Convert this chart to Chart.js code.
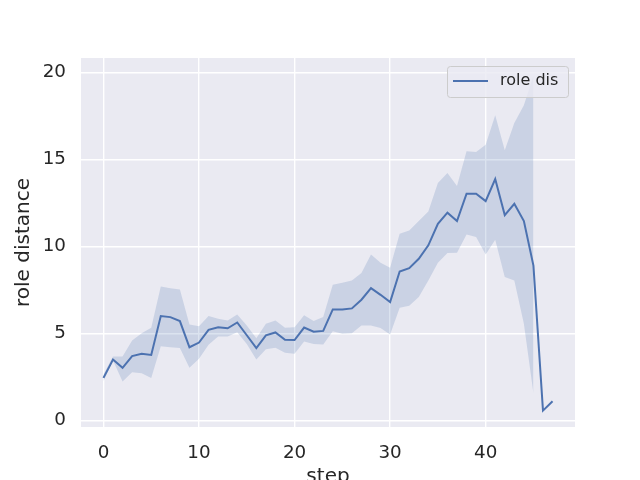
<!DOCTYPE html>
<html>
<head>
<meta charset="utf-8">
<script src="https://cdn.jsdelivr.net/npm/chart.js@4"></script>
<style>
  html, body { margin: 0; padding: 0; background: #ffffff; }
  #wrap { width: 640px; height: 480px; }
</style>
</head>
<body>
<div id="wrap"><canvas id="roleChart" width="640" height="480"></canvas></div>
<script>
const steps = [0, 1, 2, 3, 4, 5, 6, 7, 8, 9, 10, 11, 12, 13, 14, 15, 16, 17, 18, 19, 20, 21, 22, 23,
    24, 25, 26, 27, 28, 29, 30, 31, 32, 33, 34, 35, 36, 37, 38, 39, 40, 41, 42, 43, 44, 45, 46, 47];

const roleDis = [2.45, 3.5, 3.03, 3.7, 3.83, 3.77, 6.0, 5.94, 5.71, 4.21, 4.48, 5.21, 5.36, 5.3, 5.63, 4.9,
    4.16, 4.89, 5.06, 4.64, 4.62, 5.34, 5.1, 5.15, 6.38, 6.38, 6.44, 6.94, 7.6, 7.22, 6.8, 8.56,
    8.75, 9.29, 10.06, 11.3, 11.94, 11.46, 13.03, 13.03, 12.6, 13.87, 11.8, 12.45, 11.46, 8.9, 0.57, 1.11];

const roleDisUpper = [2.64, 3.68, 3.68, 4.6, 5.02, 5.33, 7.7, 7.6, 7.53, 5.52, 5.42, 6.0, 5.84, 5.75, 6.09, 5.46,
    4.73, 5.56, 5.75, 5.33, 5.36, 6.05, 5.71, 5.94, 7.8, 7.91, 8.05, 8.47, 9.54, 9.06, 8.78, 10.73,
    10.92, 11.46, 12.01, 13.64, 14.21, 13.47, 15.46, 15.42, 15.84, 17.53, 15.52, 17.09, 18.1, 19.8, null, null];

const roleDisLower = [2.26, 3.45, 2.24, 2.78, 2.72, 2.45, 4.27, 4.21, 4.16, 3.03, 3.55, 4.35, 4.83, 4.83, 5.07, 4.4,
    3.5, 4.1, 4.18, 3.89, 3.83, 4.54, 4.4, 4.37, 5.13, 4.98, 5.02, 5.46, 5.46, 5.31, 4.94, 6.48,
    6.59, 7.09, 8.05, 9.06, 9.62, 9.64, 10.69, 10.54, 9.54, 10.38, 8.24, 8.05, 5.56, 1.57, null, null];

const xTicks = [0, 10, 20, 30, 40];
const yTicks = [0, 5, 10, 15, 20];

const lineColor = '#4c72b0';
const bandColor = 'rgba(76, 114, 176, 0.2)';
const textColor = '#262626';
const fontFamily = "'DejaVu Sans', sans-serif";

function toPoints(values) {
    return steps.map((s, i) => ({ x: s, y: values[i] }));
}

// seaborn-ish background behind the plot area
const plotBackground = {
    id: 'plotBackground',
    beforeDraw(chart) {
        const { ctx, chartArea: a } = chart;
        ctx.save();
        ctx.fillStyle = '#eaeaf2';
        ctx.fillRect(a.left, a.top, a.right - a.left, a.bottom - a.top);
        ctx.restore();
    }
};

// legend box in the upper right corner, like matplotlib's
const boxLegend = {
    id: 'boxLegend',
    afterDatasetsDraw(chart) {
        const { ctx, chartArea: a } = chart;
        const label = chart.data.datasets[0].label;
        const w = 121, h = 31;
        const x = a.right - 7 - w, y = a.top + 8;
        ctx.save();
        ctx.beginPath();
        ctx.roundRect(x + 0.5, y + 0.5, w, h, 3);
        ctx.fillStyle = 'rgba(234, 234, 242, 0.8)';
        ctx.fill();
        ctx.strokeStyle = '#cccccc';
        ctx.lineWidth = 1;
        ctx.stroke();
        ctx.beginPath();
        ctx.moveTo(x + 6, y + 15);
        ctx.lineTo(x + 41, y + 15);
        ctx.strokeStyle = lineColor;
        ctx.lineWidth = 2;
        ctx.stroke();
        ctx.fillStyle = textColor;
        ctx.font = '16px ' + fontFamily;
        ctx.textBaseline = 'middle';
        ctx.fillText(label, x + 53, y + 15);
        ctx.restore();
    }
};

function renderRoleChart() {
    const ctx = document.getElementById('roleChart').getContext('2d');
    new Chart(ctx, {
        type: 'line',
        data: {
            datasets: [{
                label: 'role dis',
                data: toPoints(roleDis),
                borderColor: lineColor,
                borderWidth: 2,
                pointRadius: 0,
                fill: false
            }, {
                label: 'upper',
                data: toPoints(roleDisUpper),
                borderWidth: 0,
                borderColor: 'rgba(0,0,0,0)',
                backgroundColor: bandColor,
                pointRadius: 0,
                fill: '+1'
            }, {
                label: 'lower',
                data: toPoints(roleDisLower),
                borderWidth: 0,
                borderColor: 'rgba(0,0,0,0)',
                pointRadius: 0,
                fill: false
            }]
        },
        options: {
            responsive: false,
            animation: false,
            layout: { padding: { left: 0, top: 58, right: 65, bottom: 0 } },
            plugins: {
                legend: { display: false },
                tooltip: { enabled: false }
            },
            scales: {
                x: {
                    type: 'linear',
                    min: -2.35,
                    max: 49.35,
                    afterBuildTicks: scale => { scale.ticks = xTicks.map(v => ({ value: v })); },
                    afterFit: scale => { scale.height = 53; },
                    grid: { color: '#ffffff', lineWidth: 1.4, drawTicks: false },
                    border: { display: false },
                    ticks: {
                        padding: 15,
                        color: textColor,
                        font: { family: fontFamily, size: 18.3 },
                        maxRotation: 0
                    },
                    title: {
                        display: true,
                        text: 'step',
                        color: textColor,
                        font: { family: fontFamily, size: 20, lineHeight: 1 },
                        padding: { top: 0, bottom: -7 }
                    }
                },
                y: {
                    min: -0.37,
                    max: 20.82,
                    afterBuildTicks: scale => { scale.ticks = yTicks.map(v => ({ value: v })); },
                    afterFit: scale => { scale.width = 81; },
                    grid: { color: '#ffffff', lineWidth: 1.4, drawTicks: false },
                    border: { display: false },
                    ticks: {
                        padding: 15,
                        color: textColor,
                        font: { family: fontFamily, size: 18.3 }
                    },
                    title: {
                        display: true,
                        text: 'role distance',
                        color: textColor,
                        font: { family: fontFamily, size: 20, lineHeight: 1 },
                        padding: { top: 14, bottom: 0 }
                    }
                }
            }
        },
        plugins: [plotBackground, boxLegend]
    });
}

renderRoleChart();
</script>
</body>
</html>
